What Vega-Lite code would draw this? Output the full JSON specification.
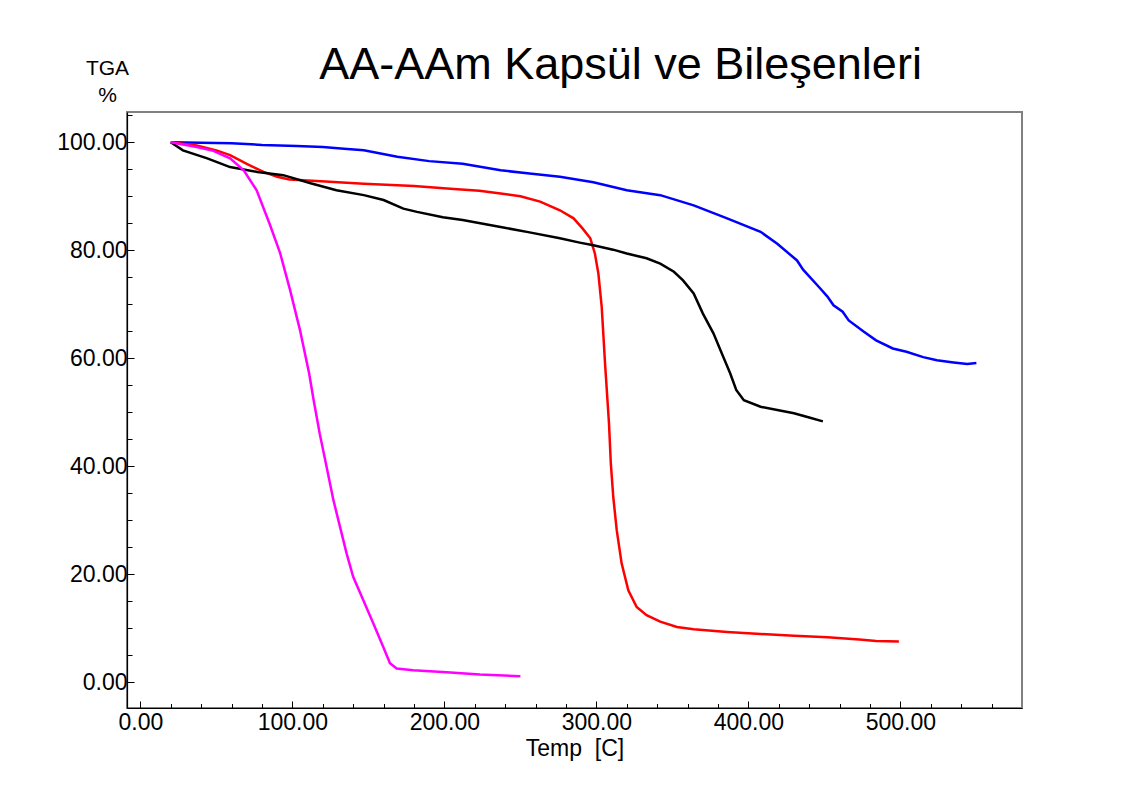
{
  "$schema": "https://vega.github.io/schema/vega-lite/v6.json",
  "width": 895,
  "height": 596,
  "autosize": {"type": "none"},
  "padding": {"left": 127, "top": 112, "right": 110, "bottom": 79},
  "background": "white",
  "config": {
    "font": "Liberation Sans",
    "view": {"stroke": "#808080", "strokeWidth": 2},
    "axis": {"grid": false, "domainColor": "black", "tickColor": "black", "labelColor": "black", "titleColor": "black", "labelFont": "Liberation Sans", "titleFont": "Liberation Sans", "titleFontWeight": "normal", "labelOverlap": false, "labelFlush": false, "labelBound": false}
  },
  "title": {
    "text": "AA-AAm Kapsül ve Bileşenleri",
    "fontSize": 45,
    "font": "Liberation Sans",
    "fontWeight": "normal",
    "color": "black",
    "anchor": "middle",
    "frame": "group",
    "dx": 46,
    "baseline": "alphabetic",
    "offset": -67
  },
  "data": {
    "values": [
      {"s": "blue", "T": 20, "W": 100.0},
      {"s": "blue", "T": 40, "W": 99.9},
      {"s": "blue", "T": 60, "W": 99.8},
      {"s": "blue", "T": 80, "W": 99.5},
      {"s": "blue", "T": 103, "W": 99.3},
      {"s": "blue", "T": 120, "W": 99.1},
      {"s": "blue", "T": 134, "W": 98.8},
      {"s": "blue", "T": 147, "W": 98.5},
      {"s": "blue", "T": 169, "W": 97.3},
      {"s": "blue", "T": 190, "W": 96.5},
      {"s": "blue", "T": 212, "W": 96.0},
      {"s": "blue", "T": 237, "W": 94.8},
      {"s": "blue", "T": 256, "W": 94.2},
      {"s": "blue", "T": 276, "W": 93.6},
      {"s": "blue", "T": 298, "W": 92.6},
      {"s": "blue", "T": 320, "W": 91.1},
      {"s": "blue", "T": 342, "W": 90.2},
      {"s": "blue", "T": 364, "W": 88.3},
      {"s": "blue", "T": 386, "W": 85.9},
      {"s": "blue", "T": 408, "W": 83.4},
      {"s": "blue", "T": 419, "W": 81.2},
      {"s": "blue", "T": 432, "W": 78.1},
      {"s": "blue", "T": 436, "W": 76.4},
      {"s": "blue", "T": 447, "W": 73.0},
      {"s": "blue", "T": 452, "W": 71.4},
      {"s": "blue", "T": 456, "W": 69.8},
      {"s": "blue", "T": 462, "W": 68.6},
      {"s": "blue", "T": 466, "W": 67.0},
      {"s": "blue", "T": 476, "W": 64.9},
      {"s": "blue", "T": 484, "W": 63.3},
      {"s": "blue", "T": 495, "W": 61.8},
      {"s": "blue", "T": 504, "W": 61.2},
      {"s": "blue", "T": 515, "W": 60.2},
      {"s": "blue", "T": 524, "W": 59.6},
      {"s": "blue", "T": 535, "W": 59.2},
      {"s": "blue", "T": 544, "W": 58.9},
      {"s": "blue", "T": 550, "W": 59.1},
      {"s": "red", "T": 20, "W": 100.0},
      {"s": "red", "T": 37, "W": 99.4},
      {"s": "red", "T": 50, "W": 98.5},
      {"s": "red", "T": 59, "W": 97.6},
      {"s": "red", "T": 70, "W": 96.0},
      {"s": "red", "T": 81, "W": 94.5},
      {"s": "red", "T": 90, "W": 93.6},
      {"s": "red", "T": 98, "W": 93.1},
      {"s": "red", "T": 116, "W": 92.8},
      {"s": "red", "T": 147, "W": 92.3},
      {"s": "red", "T": 180, "W": 91.9},
      {"s": "red", "T": 204, "W": 91.4},
      {"s": "red", "T": 223, "W": 91.0},
      {"s": "red", "T": 237, "W": 90.5},
      {"s": "red", "T": 250, "W": 90.0},
      {"s": "red", "T": 263, "W": 89.0},
      {"s": "red", "T": 276, "W": 87.4},
      {"s": "red", "T": 285, "W": 85.9},
      {"s": "red", "T": 291, "W": 84.0},
      {"s": "red", "T": 296, "W": 82.2},
      {"s": "red", "T": 299, "W": 79.4},
      {"s": "red", "T": 301.3, "W": 75.7},
      {"s": "red", "T": 303.5, "W": 69.5},
      {"s": "red", "T": 305.7, "W": 59.0},
      {"s": "red", "T": 308.3, "W": 47.9},
      {"s": "red", "T": 309.5, "W": 40.5},
      {"s": "red", "T": 311.1, "W": 34.3},
      {"s": "red", "T": 313.4, "W": 28.1},
      {"s": "red", "T": 316.6, "W": 22.0},
      {"s": "red", "T": 321, "W": 17.0},
      {"s": "red", "T": 326.5, "W": 13.9},
      {"s": "red", "T": 333, "W": 12.4},
      {"s": "red", "T": 342, "W": 11.2},
      {"s": "red", "T": 353, "W": 10.2},
      {"s": "red", "T": 364, "W": 9.8},
      {"s": "red", "T": 386, "W": 9.3},
      {"s": "red", "T": 408, "W": 8.9},
      {"s": "red", "T": 430, "W": 8.6},
      {"s": "red", "T": 452, "W": 8.3},
      {"s": "red", "T": 473, "W": 7.9},
      {"s": "red", "T": 484, "W": 7.6},
      {"s": "red", "T": 499, "W": 7.5},
      {"s": "black", "T": 20, "W": 100.0},
      {"s": "black", "T": 28, "W": 98.5},
      {"s": "black", "T": 44, "W": 97.0},
      {"s": "black", "T": 59, "W": 95.4},
      {"s": "black", "T": 77, "W": 94.5},
      {"s": "black", "T": 94, "W": 93.9},
      {"s": "black", "T": 112, "W": 92.4},
      {"s": "black", "T": 129, "W": 91.1},
      {"s": "black", "T": 147, "W": 90.2},
      {"s": "black", "T": 160, "W": 89.3},
      {"s": "black", "T": 173, "W": 87.7},
      {"s": "black", "T": 182, "W": 87.1},
      {"s": "black", "T": 199, "W": 86.1},
      {"s": "black", "T": 212, "W": 85.6},
      {"s": "black", "T": 237, "W": 84.3},
      {"s": "black", "T": 256, "W": 83.3},
      {"s": "black", "T": 276, "W": 82.2},
      {"s": "black", "T": 289, "W": 81.4},
      {"s": "black", "T": 298, "W": 80.9},
      {"s": "black", "T": 311, "W": 80.1},
      {"s": "black", "T": 320, "W": 79.4},
      {"s": "black", "T": 333, "W": 78.5},
      {"s": "black", "T": 342, "W": 77.5},
      {"s": "black", "T": 351, "W": 76.0},
      {"s": "black", "T": 357, "W": 74.4},
      {"s": "black", "T": 364, "W": 72.0},
      {"s": "black", "T": 370, "W": 68.3},
      {"s": "black", "T": 377, "W": 64.6},
      {"s": "black", "T": 383.5, "W": 60.2},
      {"s": "black", "T": 388, "W": 57.2},
      {"s": "black", "T": 392, "W": 54.1},
      {"s": "black", "T": 397, "W": 52.2},
      {"s": "black", "T": 408, "W": 51.0},
      {"s": "black", "T": 419, "W": 50.4},
      {"s": "black", "T": 430, "W": 49.8},
      {"s": "black", "T": 440, "W": 49.0},
      {"s": "black", "T": 449, "W": 48.3},
      {"s": "magenta", "T": 20, "W": 100.0},
      {"s": "magenta", "T": 37, "W": 99.1},
      {"s": "magenta", "T": 48, "W": 98.4},
      {"s": "magenta", "T": 59, "W": 97.0},
      {"s": "magenta", "T": 68, "W": 94.8},
      {"s": "magenta", "T": 76.5, "W": 91.1},
      {"s": "magenta", "T": 85, "W": 84.9},
      {"s": "magenta", "T": 92, "W": 79.4},
      {"s": "magenta", "T": 98.5, "W": 72.6},
      {"s": "magenta", "T": 105, "W": 65.2},
      {"s": "magenta", "T": 111, "W": 57.2},
      {"s": "magenta", "T": 114, "W": 52.2},
      {"s": "magenta", "T": 118, "W": 46.0},
      {"s": "magenta", "T": 122.5, "W": 39.9},
      {"s": "magenta", "T": 127, "W": 33.7},
      {"s": "magenta", "T": 131.3, "W": 28.8},
      {"s": "magenta", "T": 135.7, "W": 23.8},
      {"s": "magenta", "T": 140, "W": 19.5},
      {"s": "magenta", "T": 146.6, "W": 15.2},
      {"s": "magenta", "T": 153.2, "W": 10.9},
      {"s": "magenta", "T": 159.8, "W": 6.5},
      {"s": "magenta", "T": 164.2, "W": 3.5},
      {"s": "magenta", "T": 168.6, "W": 2.5},
      {"s": "magenta", "T": 179.5, "W": 2.2},
      {"s": "magenta", "T": 201.5, "W": 1.8},
      {"s": "magenta", "T": 223.4, "W": 1.4},
      {"s": "magenta", "T": 250, "W": 1.1}
    ]
  },
  "mark": {"type": "line", "strokeWidth": 2.5, "interpolate": "linear"},
  "encoding": {
    "x": {
      "field": "T",
      "type": "quantitative",
      "scale": {"domain": [-8.8, 580], "nice": false, "zero": false},
      "axis": {
        "values": [0, 20, 40, 60, 80, 100, 120, 140, 160, 180, 200, 220, 240, 260, 280, 300, 320, 340, 360, 380, 400, 420, 440, 460, 480, 500, 520, 540, 560],
        "labelExpr": "datum.value % 100 === 0 ? format(datum.value, '.2f') : ''",
        "labelFontSize": 23,
        "labelPadding": 10,
        "tickSize": {"condition": {"test": "datum.value % 100 === 0", "value": -7}, "value": -4.5},
        "domainWidth": 1.2,
        "title": "Temp\u00a0\u00a0[C]",
        "titleFontSize": 23,
        "titlePadding": 1
      }
    },
    "y": {
      "field": "W",
      "type": "quantitative",
      "scale": {"domain": [-4.8, 105.6], "nice": false, "zero": false},
      "axis": {
        "values": [0, 5, 10, 15, 20, 25, 30, 35, 40, 45, 50, 55, 60, 65, 70, 75, 80, 85, 90, 95, 100, 105],
        "labelExpr": "datum.value % 20 === 0 ? format(datum.value, '.2f') : ''",
        "labelFontSize": 23,
        "labelPadding": 7,
        "tickSize": {"condition": {"test": "datum.value % 20 === 0", "value": -7}, "value": -5},
        "domainWidth": 1.2,
        "title": ["TGA", "\u2002%"],
        "titleFontSize": 21,
        "titleAngle": 0,
        "titleAlign": "center",
        "titleBaseline": "alphabetic",
        "titleLineHeight": 27,
        "titleX": -20,
        "titleY": -38
      }
    },
    "color": {
      "field": "s",
      "type": "nominal",
      "scale": {"domain": ["blue", "red", "black", "magenta"], "range": ["#0000ff", "#ff0000", "#000000", "#ff00ff"]},
      "legend": null
    }
  }
}
